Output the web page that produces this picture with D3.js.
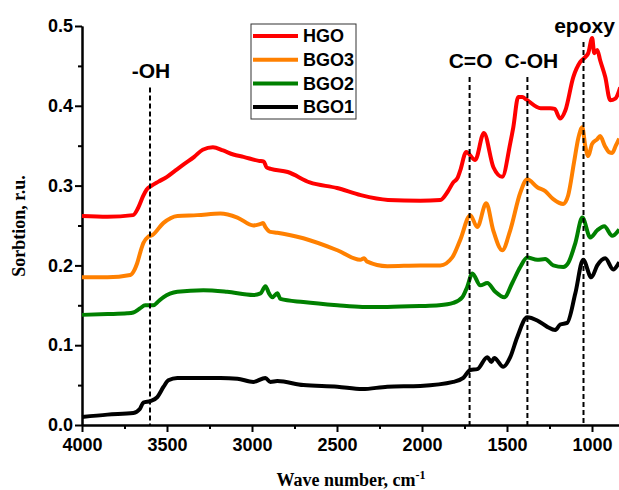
<!DOCTYPE html>
<html>
<head>
<meta charset="utf-8">
<script src="https://cdn.jsdelivr.net/npm/d3@7"></script>
<style>
body { margin: 0; background: #fff; }
svg { display: block; }
.axis text { font-family: Arial, "Liberation Sans", sans-serif; font-weight: bold; font-size: 18px; fill: #000; }
.axis path, .axis line { stroke: #000; stroke-width: 2px; }
.label { font-family: Arial, "Liberation Sans", sans-serif; font-weight: bold; font-size: 21px; }
.title { font-family: "Times New Roman", "Liberation Serif", serif; font-weight: bold; font-size: 18px; }
</style>
</head>
<body>
<div id="chart"></div>
<script>
// tick values
var waveTicks = [4000, 3500, 3000, 2500, 2000, 1500, 1000];
var waveMinor = [3750, 3250, 2750, 2250, 1750, 1250, 750];
var sorbTicks = [0, 0.1, 0.2, 0.3, 0.4, 0.5];
var sorbMinor = [0.05, 0.15, 0.25, 0.35, 0.45];

// series, [wave number, sorbtion]
var seriesNames = ["HGO", "BGO3", "BGO2", "BGO1"];
var seriesColors = ["#ff0000", "#ff8000", "#008000", "#000000"];

var hgo = [[4000,0.262],[3850,0.261],[3700,0.263],[3670,0.272],[3640,0.287],[3620,0.295],[3590,0.300],[3550,0.305],
  [3500,0.311],[3450,0.319],[3400,0.327],[3340,0.336],[3290,0.345],[3230,0.348],[3170,0.344],[3110,0.339],[3050,0.336],
  [2960,0.331],[2930,0.330],[2915,0.323],[2890,0.321],[2790,0.317],[2660,0.304],[2500,0.297],[2360,0.288],
  [2200,0.282],[2010,0.281],[1892,0.282],[1850,0.292],[1816,0.304],[1790,0.310],[1775,0.319],[1740,0.342],
  [1687,0.332],[1636,0.366],[1580,0.323],[1528,0.311],[1481,0.353],[1463,0.373],[1434,0.411],[1410,0.411],
  [1387,0.408],[1302,0.397],[1245,0.397],[1220,0.396],[1187,0.384],[1157,0.394],[1110,0.436],[1069,0.455],
  [1040,0.461],[1022,0.466],[999,0.485],[987,0.466],[969,0.470],[952,0.457],[922,0.436],[893,0.407],
  [863,0.409],[834,0.423]];

var bgo3 = [[4000,0.185],[3850,0.185],[3716,0.188],[3690,0.195],[3675,0.203],[3655,0.218],[3639,0.228],[3610,0.236],
  [3586,0.238],[3522,0.253],[3439,0.262],[3322,0.263],[3186,0.265],[3086,0.260],[2992,0.250],[2950,0.252],
  [2935,0.253],[2921,0.248],[2892,0.242],[2851,0.241],[2698,0.234],[2498,0.219],[2363,0.207],[2340,0.209],
  [2325,0.205],[2204,0.199],[2010,0.200],[1892,0.200],[1822,0.210],[1775,0.232],[1716,0.263],[1675,0.248],
  [1622,0.278],[1581,0.244],[1528,0.219],[1481,0.244],[1422,0.291],[1381,0.308],[1322,0.298],[1275,0.293],
  [1228,0.283],[1169,0.277],[1140,0.288],[1105,0.330],[1080,0.360],[1057,0.373],[1040,0.350],[1022,0.337],
  [1000,0.352],[970,0.358],[952,0.362],[925,0.350],[900,0.342],[881,0.341],[860,0.350],[840,0.359]];

var bgo2 = [[4000,0.138],[3850,0.139],[3734,0.140],[3698,0.141],[3660,0.146],[3628,0.150],[3581,0.150],[3550,0.155],
  [3522,0.160],[3439,0.167],[3286,0.169],[3146,0.167],[2992,0.163],[2950,0.165],[2921,0.174],[2900,0.165],
  [2880,0.160],[2851,0.165],[2833,0.158],[2698,0.154],[2498,0.150],[2351,0.148],[2204,0.148],[2010,0.149],
  [1900,0.150],[1816,0.153],[1763,0.160],[1734,0.173],[1704,0.190],[1657,0.175],[1616,0.178],[1569,0.167],
  [1516,0.160],[1469,0.178],[1422,0.198],[1381,0.210],[1322,0.207],[1275,0.208],[1228,0.200],[1169,0.198],
  [1140,0.203],[1098,0.228],[1057,0.260],[1010,0.235],[969,0.244],[928,0.249],[881,0.237],[840,0.245]];

var bgo1 = [[4000,0.010],[3850,0.013],[3698,0.015],[3660,0.020],[3639,0.028],[3598,0.030],[3557,0.035],[3520,0.048],
  [3492,0.056],[3439,0.059],[3186,0.059],[3086,0.058],[2992,0.054],[2921,0.059],[2892,0.054],[2851,0.055],
  [2698,0.050],[2498,0.048],[2351,0.045],[2204,0.048],[2010,0.049],[1816,0.054],[1757,0.059],[1716,0.069],
  [1675,0.070],[1616,0.085],[1592,0.079],[1575,0.084],[1522,0.073],[1481,0.085],[1440,0.110],[1381,0.135],
  [1322,0.131],[1263,0.123],[1216,0.119],[1187,0.126],[1146,0.128],[1098,0.165],[1052,0.207],[1004,0.185],
  [969,0.200],[922,0.209],[875,0.195],[840,0.204]];

// band markers: position, label, top of dashed line (sorbtion units)
var bandWaves = [3600, 1720, 1380, 1050];
var bandLabels = ["-OH", "C=O", "C-OH", "epoxy"];
var bandTops = [0.423, 0.436, 0.436, 0.48];

var width = 619, height = 490;
var series = [hgo, bgo3, bgo2, bgo1];

var x = d3.scaleLinear().domain([4000, 800]).range([82, 626]);
var y = d3.scaleLinear().domain([0, 0.5]).range([425, 26]);

var svg = d3.select("#chart").append("svg")
    .attr("width", width)
    .attr("height", height);

// axes
svg.append("g")
    .attr("class", "axis")
    .attr("transform", "translate(0,425)")
    .call(d3.axisBottom(x).tickValues(waveMinor).tickSize(4).tickSizeOuter(0).tickFormat(""));

svg.append("g")
    .attr("class", "axis")
    .attr("transform", "translate(0,425)")
    .call(d3.axisBottom(x).tickValues(waveTicks).tickSize(7).tickSizeOuter(0).tickPadding(6).tickFormat(d3.format("d")));

svg.append("g")
    .attr("class", "axis")
    .attr("transform", "translate(82,0)")
    .call(d3.axisLeft(y).tickValues(sorbMinor).tickSize(4).tickSizeOuter(0).tickFormat(""));

svg.append("g")
    .attr("class", "axis")
    .attr("transform", "translate(82,0)")
    .call(d3.axisLeft(y).tickValues(sorbTicks).tickSize(7).tickSizeOuter(0).tickPadding(2).tickFormat(d3.format(".1f")));

// curves
var line = d3.line()
    .x(function (d) { return x(d[0]); })
    .y(function (d) { return y(d[1]); })
    .curve(d3.curveMonotoneX);

svg.selectAll(".curve")
    .data(series)
    .enter().append("path")
    .attr("class", "curve")
    .attr("d", line)
    .attr("fill", "none")
    .attr("stroke", function (d, i) { return seriesColors[i]; })
    .attr("stroke-width", 4)
    .attr("stroke-linejoin", "round");

// dashed band lines and labels
svg.selectAll(".band")
    .data(bandWaves)
    .enter().append("line")
    .attr("class", "band")
    .attr("x1", function (d) { return x(d); })
    .attr("x2", function (d) { return x(d); })
    .attr("y1", function (d, i) { return y(bandTops[i]); })
    .attr("y2", y(0))
    .attr("stroke", "#000")
    .attr("stroke-width", 2)
    .attr("stroke-dasharray", "5,3");

svg.selectAll(".label")
    .data(bandWaves)
    .enter().append("text")
    .attr("class", "label")
    .attr("x", function (d, i) { return x(d) + (i == 2 ? 4 : 1); })
    .attr("y", function (d, i) { return y(bandTops[i]) - 9; })
    .attr("text-anchor", "middle")
    .text(function (d, i) { return bandLabels[i]; });

// legend
var legend = svg.append("g").attr("transform", "translate(251,24)");
legend.append("rect")
    .attr("width", 105)
    .attr("height", 95)
    .attr("fill", "#fff")
    .attr("stroke", "#333")
    .attr("stroke-width", 1);

var rows = legend.selectAll(".row")
    .data(seriesNames)
    .enter().append("g")
    .attr("transform", function (d, i) { return "translate(0," + (12 + i * 23.7) + ")"; });
rows.append("line")
    .attr("x1", 2).attr("x2", 47)
    .attr("stroke", function (d, i) { return seriesColors[i]; })
    .attr("stroke-width", 4);
rows.append("text")
    .attr("x", 52)
    .attr("dy", "0.35em")
    .style("font-family", "Arial, 'Liberation Sans', sans-serif")
    .style("font-weight", "bold")
    .style("font-size", "18px")
    .text(function (d) { return d; });

// axis titles
svg.append("text")
    .attr("class", "title")
    .attr("transform", "translate(25,226) rotate(-90)")
    .attr("text-anchor", "middle")
    .text("Sorbtion, r.u.");

var xt = svg.append("text")
    .attr("class", "title")
    .attr("x", 351)
    .attr("y", 486)
    .attr("text-anchor", "middle");
xt.append("tspan").text("Wave number, cm");
xt.append("tspan").attr("dy", -7).style("font-size", "12px").text("-1");
</script>
</body>
</html>
